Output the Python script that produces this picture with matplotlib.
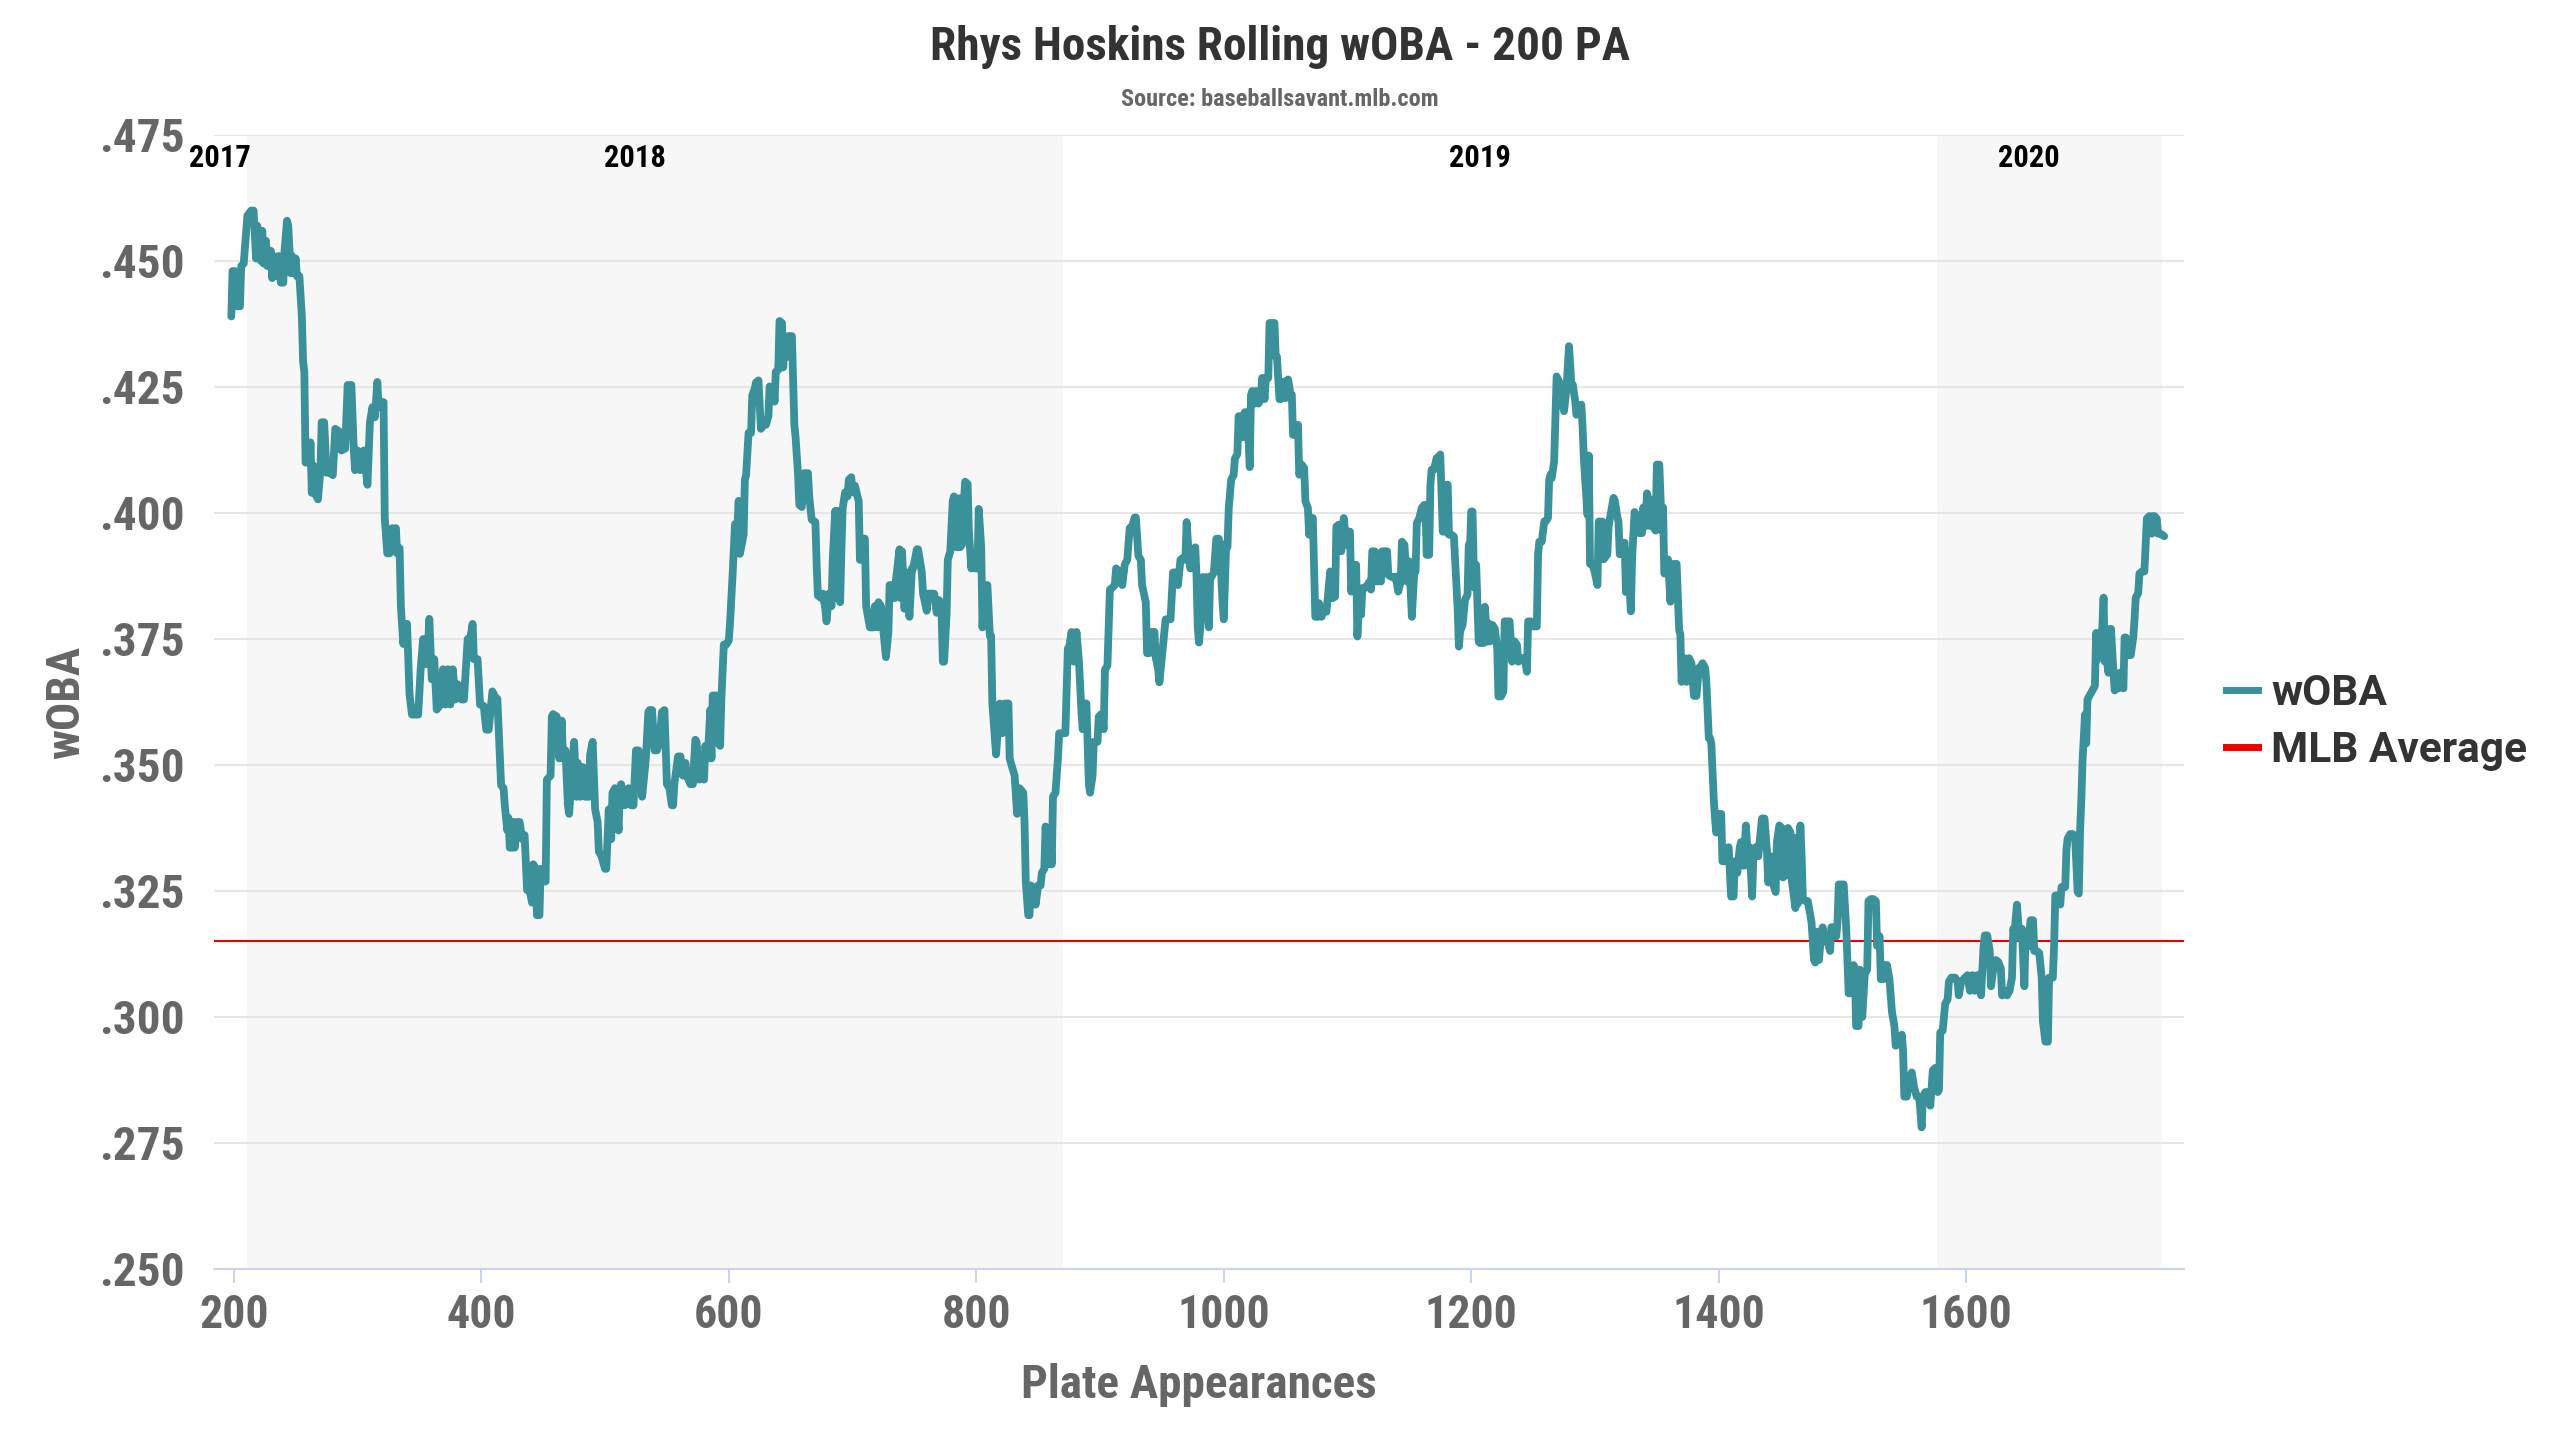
import matplotlib
matplotlib.use("Agg")
import matplotlib.pyplot as plt
from matplotlib import font_manager as fm
from matplotlib.lines import Line2D
from matplotlib.ticker import FuncFormatter
import matplotlib.transforms as mtransforms

# ---------------- data ----------------
title = "Rhys Hoskins Rolling wOBA - 200 PA"
subtitle = "Source: baseballsavant.mlb.com"
x_label = "Plate Appearances"
y_label = "wOBA"
series_names = ["wOBA", "MLB Average"]
mlb_average = 0.315

season_names = ["2017", "2018", "2019", "2020"]
season_start = [198, 211, 870, 1576]
season_end = [211, 870, 1576, 1758]
season_shaded = [False, True, False, True]

x_ticks = [200, 400, 600, 800, 1000, 1200, 1400, 1600]
y_ticks = [0.250, 0.275, 0.300, 0.325, 0.350, 0.375, 0.400, 0.425, 0.450, 0.475]

plate_appearances = [
    198, 199, 201, 203, 205, 206, 208, 211, 214, 216, 218, 219, 222, 223, 224, 226, 227, 230, 231, 232,
    235, 236, 238, 240, 241, 243, 244, 246, 247, 248, 250, 251, 253, 255, 256, 257, 258, 261, 262, 263,
    264, 266, 268, 270, 271, 273, 275, 278, 280, 282, 285, 287, 290, 292, 295, 297, 298, 300, 302, 305,
    308, 310, 312, 314, 316, 317, 318, 321, 322, 324, 326, 328, 330, 331, 332, 334, 335, 337, 339, 340,
    342, 344, 347, 349, 351, 353, 355, 357, 358, 360, 362, 364, 367, 369, 371, 373, 375, 377, 379, 381,
    384, 386, 388, 389, 391, 393, 394, 397, 399, 402, 404, 406, 409, 411, 413,
    416, 418, 419, 421, 422, 423, 425, 426, 427, 429, 431, 433, 435, 437, 439, 441, 442, 444, 445, 447,
    448, 450, 452, 453, 456, 457, 458, 461, 463, 465, 466, 468, 470, 471, 473, 475, 477, 478, 480, 482,
    484, 487, 488, 490, 492, 494, 495, 497, 500, 501, 503, 505, 506, 508, 511, 512, 513, 516, 519, 521,
    523, 525, 527, 528, 530, 531, 533, 535, 536, 538, 540, 542, 544, 546, 548, 550, 552, 554, 555, 556,
    559, 561, 563, 565, 566, 569, 571, 573, 574, 576, 578, 580, 581, 583, 585, 586, 587, 590, 591, 593,
    594, 596, 598, 600, 601, 603, 605, 606, 608, 609, 612, 613, 614, 616, 618, 619, 621, 622, 624, 626,
    628,
    630, 632, 633, 635, 636, 637, 638, 640, 641, 643, 644, 645, 647, 648, 650, 651, 653, 654, 656, 657,
    659, 660, 661, 664, 665, 667, 670, 671, 672, 675, 676, 678, 679, 681, 683, 684, 686, 687, 688, 690,
    691, 692, 694, 696, 697, 699, 700, 702, 704, 705, 706, 708, 710, 711, 714, 717, 718, 720, 721, 723,
    725, 727, 729, 730, 732, 734, 735, 738, 739, 740, 742, 744, 746, 748, 749, 752, 753, 756, 757, 760,
    761, 764, 766, 768, 770, 772, 773, 774, 776, 777, 779, 781, 782, 784, 786, 787, 789, 790, 791, 793,
    794, 796, 797, 799, 801, 802, 804, 805, 807, 809, 811, 812, 813, 816, 818, 819, 821, 823, 826, 827,
    828, 830, 831, 833,
    835, 838, 839, 840, 842, 843, 844, 846, 848, 850, 852, 853, 855, 856, 858, 860, 861, 862, 864, 866,
    867, 870, 872, 874, 875, 877, 879, 881, 883, 885, 886, 887, 889, 891, 892, 894, 895, 898, 899, 901,
    903, 904, 906, 908, 910, 912, 913, 916, 918, 920, 922, 924, 926, 928, 929, 931, 933, 934, 937, 938,
    940, 942, 944, 945, 947, 948, 950, 952, 953, 955, 957, 959, 961, 963, 965, 967, 969, 970, 972, 973,
    975, 977, 978, 979, 980, 982, 983, 984, 986, 987, 988, 989, 990, 992, 994, 995, 996, 998, 999, 1000,
    1002, 1003, 1004, 1006, 1007, 1008, 1009, 1011, 1012, 1014, 1015, 1017, 1018, 1019, 1021, 1022, 1023, 1025, 1026, 1028,
    1030, 1031, 1033, 1034, 1036, 1037, 1041, 1042, 1043, 1045, 1046,
    1047, 1049, 1050, 1052, 1054, 1055, 1056, 1058, 1060, 1061, 1063, 1065, 1066, 1068, 1069, 1070, 1072, 1074, 1076, 1077,
    1079, 1081, 1083, 1084, 1086, 1088, 1090, 1091, 1093, 1095, 1097, 1099, 1100, 1102, 1103, 1105, 1107, 1108, 1109, 1111,
    1112, 1114, 1116, 1118, 1119, 1120, 1122, 1124, 1125, 1127, 1128, 1130, 1132, 1133, 1135, 1138, 1139, 1141, 1143, 1144,
    1146, 1148, 1150, 1151, 1152, 1154, 1155, 1156, 1158, 1160, 1162, 1163, 1164, 1166, 1167, 1168, 1170, 1172, 1174, 1175,
    1177, 1178, 1180, 1181, 1182, 1184, 1186, 1187, 1189, 1190, 1191, 1193, 1195, 1197, 1198, 1199, 1200, 1201, 1202, 1203,
    1204, 1205, 1206, 1207, 1210, 1211, 1213, 1214, 1215, 1217, 1219, 1221, 1222, 1224, 1226, 1227, 1229, 1231, 1233, 1235,
    1237, 1238, 1241, 1243, 1245, 1246, 1248, 1250, 1253, 1254, 1255, 1257, 1259, 1260, 1262, 1263, 1264, 1265, 1267, 1269,
    1271, 1273, 1274, 1275, 1277, 1279, 1280, 1281, 1282, 1284, 1285, 1287, 1289, 1290, 1291, 1292, 1294,
    1295, 1296, 1298, 1300, 1302, 1303, 1306, 1307, 1310, 1311, 1313, 1315, 1316, 1318, 1319, 1320, 1322, 1324, 1325, 1327,
    1329, 1330, 1332, 1334, 1336, 1338, 1339, 1341, 1342, 1343, 1345, 1346, 1347, 1349, 1350, 1352, 1354, 1355, 1356, 1358,
    1359, 1361, 1362, 1364, 1365, 1366, 1368, 1369, 1370, 1372, 1374, 1376, 1378, 1380, 1382, 1384, 1385, 1387, 1389, 1390,
    1392, 1393, 1394, 1396, 1397, 1398, 1400, 1402, 1403, 1405, 1406, 1408, 1410, 1412, 1413, 1415, 1417, 1418, 1420, 1422,
    1424, 1425, 1427, 1428, 1430, 1432, 1433, 1435, 1437, 1439, 1440, 1442, 1443, 1446, 1447, 1449, 1451, 1452, 1454, 1456,
    1458, 1459, 1462, 1463, 1464, 1466, 1467, 1468, 1470, 1472, 1475, 1477, 1478, 1479, 1481, 1483, 1484, 1486, 1488, 1490,
    1491, 1493, 1495, 1496, 1497, 1499, 1501, 1503, 1505, 1507, 1509, 1510, 1511, 1513, 1514, 1516, 1518, 1520, 1521, 1523,
    1525, 1527, 1528, 1530, 1531, 1533, 1534, 1536, 1538, 1540,
    1542, 1543, 1546, 1548, 1549, 1550, 1552, 1554, 1556, 1558, 1560, 1562, 1564, 1565, 1567, 1569, 1571, 1573, 1575, 1577,
    1578, 1579, 1581, 1583, 1585, 1586, 1588, 1591, 1593, 1594, 1596, 1599, 1601, 1603, 1605, 1607, 1609, 1611, 1612, 1614,
    1615, 1617, 1619, 1620, 1622, 1624, 1626, 1628, 1629, 1631, 1633, 1635, 1637, 1638, 1639, 1641, 1643, 1645, 1647, 1648,
    1650, 1652, 1654, 1655, 1657, 1659, 1661, 1662, 1664, 1666, 1667, 1670, 1671, 1672, 1673, 1676, 1677, 1680, 1681, 1682,
    1684, 1686, 1688, 1690, 1691, 1692, 1693, 1694, 1696, 1697, 1698, 1700, 1702, 1704, 1705, 1706, 1708, 1709, 1711, 1712,
    1713, 1715, 1716, 1717, 1719, 1720, 1721, 1723, 1724, 1725, 1727, 1728, 1729, 1731, 1733, 1735, 1736, 1737, 1739, 1740,
    1742, 1744, 1746, 1748, 1750, 1751, 1752, 1754, 1755, 1757, 1760,
]

rolling_woba = [
    .439, .448, .448, .441, .441, .449, .4495, .459, .460, .460, .4505, .457, .450, .456, .4495, .454, .449, .452, .4466, .451,
    .447, .451, .4457, .4457, .452, .458, .457, .4476, .451, .4476, .4505, .447, .447, .439, .430, .428, .410, .410, .414, .404,
    .4095, .4037, .4027, .4085, .418, .418, .408, .408, .4075, .4167, .4162, .4124, .4128, .4254, .4254, .4124, .4085, .4124, .4085, .4124,
    .4056, .418, .421, .419, .426, .421, .422, .422, .399, .392, .392, .397, .396, .397, .392, .393, .3815, .374, .378, .378,
    .364, .360, .360, .360, .369, .375, .370, .374, .379, .367, .371, .361, .362, .369, .362, .369, .362, .369, .363, .366,
    .363, .363, .371, .375, .375, .378, .371, .371, .362, .3617, .357, .357, .3646, .3636, .3631,
    .346, .3454, .342, .337, .3395, .3336, .3336, .3387, .3336, .3387, .3387, .3353, .3361, .3252, .3252, .3227, .3303, .3294, .3202, .3202,
    .3294, .3269, .3269, .3471, .3479, .3596, .3601, .3596, .3513, .3588, .3513, .3529, .3420, .3403, .3479, .3546, .3437, .3504, .3437, .3496,
    .3437, .3437, .3521, .3546, .3412, .3387, .3328, .3320, .3294, .3294, .3412, .3353, .3445, .3454, .3370, .3454, .3462, .3420, .3454, .3420,
    .3420, .3529, .3529, .3521, .3437, .3462, .3513, .3605, .3609, .3609, .3529, .3529, .3546, .3605, .3609, .3462, .3454, .3420, .3420, .3462,
    .3517, .3517, .3479, .3504, .3479, .3462, .3462, .3550, .3546, .3471, .3479, .3471, .3538, .3513, .3609, .3513, .3638, .3638, .3546, .3538,
    .3630, .3739, .3739, .3747, .3781, .3873, .3978, .3924, .4024, .3919, .3957, .4066, .4075, .4159, .4159, .4234, .4247, .4259, .4263, .4167,
    .4175,
    .4175, .4192, .4251, .4226, .4251, .4221, .4280, .4284, .4381, .4377, .4289, .4343, .4310, .4351, .4351, .4351, .4175, .4150, .4075, .4016,
    .4012, .4058, .4079, .4079, .4033, .3987, .3982, .3898, .3836, .3831, .3840, .3810, .3785, .3840, .3815, .3907, .4004, .3831, .4004, .3823,
    .3924, .4008, .4041, .4033, .4066, .4071, .4041, .4054, .4033, .4024, .3907, .3949, .3949, .3815, .3773, .3773, .3815, .3773, .3823, .3815,
    .3764, .3714, .3764, .3857, .3857, .3831, .3865, .3928, .3831, .3924, .3810, .3882, .3794, .3890, .3890, .3928, .3928, .3882, .3840, .3806,
    .3840, .3840, .3840, .3802, .3827, .3798, .3705, .3705, .3798, .3907, .3924, .4024, .4033, .3932, .4029, .3932, .3940, .4024, .4062, .4058,
    .3966, .3890, .3915, .3890, .3890, .4008, .3932, .3773, .3857, .3857, .3756, .3756, .3622, .3521, .3588, .3622, .3563, .3622, .3622, .3513,
    .3504, .3487, .3479, .3403,
    .3454, .3445, .3387, .3269, .3202, .3202, .3261, .3257, .3223, .3261, .3261, .3286, .3294, .3378, .3303, .3361, .3303, .3437, .3445, .3513,
    .3563, .3563, .3563, .3731, .3731, .3764, .3705, .3764, .3705, .3605, .3571, .3622, .3622, .3462, .3445, .3479, .3546, .3546, .3596, .3601,
    .3571, .3689, .3697, .3848, .3852, .3857, .3890, .3882, .3857, .3898, .3907, .3970, .3974, .3991, .3991, .3915, .3907, .3857, .3823, .3722,
    .3722, .3764, .3764, .3714, .3689, .3664, .3714, .3764, .3789, .3789, .3789, .3882, .3882, .3857, .3907, .3911, .3907, .3982, .3907, .3890,
    .3924, .3932, .3873, .3773, .3743, .3798, .3873, .3798, .3873, .3848, .3773, .3873, .3873, .3882, .3949, .3949, .3949, .3873, .3823, .3789,
    .3940, .3932, .4008, .4066, .4071, .4075, .4108, .4117, .4192, .4192, .4150, .4200, .4200, .4200, .4091, .4234, .4242, .4217, .4242, .4217,
    .4226, .4268, .4226, .4268, .4268, .4377, .4377, .4310, .4310, .4226, .4226,
    .4228, .4261, .4228, .4265, .4235, .4235, .4155, .4155, .4175, .4076, .4096, .4089, .4023, .4010, .3957, .3990, .3990, .3794, .3794, .3821,
    .3794, .3811, .3804, .3831, .3884, .3831, .3834, .3973, .3977, .3924, .3990, .3937, .3963, .3963, .3844, .3897, .3897, .3755, .3811, .3798,
    .3851, .3851, .3857, .3864, .3848, .3924, .3924, .3864, .3871, .3864, .3924, .3924, .3924, .3877, .3874, .3871, .3874, .3844, .3864, .3943,
    .3937, .3864, .3904, .3851, .3794, .3884, .3884, .3980, .3990, .4010, .4016, .4016, .3917, .3917, .4056, .4086, .4086, .4109, .4112, .4116,
    .3963, .3963, .4056, .4056, .3957, .3957, .3953, .3904, .3811, .3735, .3765, .3778, .3828, .3838, .3937, .3930, .4003, .4003, .3897, .3851,
    .3897, .3824, .3745, .3742, .3742, .3814, .3745, .3781, .3745, .3778, .3771, .3732, .3636, .3636, .3646, .3785, .3785, .3785, .3705, .3745,
    .3738, .3705, .3712, .3712, .3685, .3785, .3785, .3775, .3775, .3917, .3943, .3943, .3983, .3983, .3990, .4066, .4076, .4069, .4102, .4271,
    .4261, .4215, .4215, .4202, .4248, .4331, .4294, .4248, .4255, .4222, .4195, .4212, .4215, .4169, .4109, .4069, .3996,
    .4114, .3899, .3899, .3880, .3857, .3983, .3983, .3908, .3918, .3974, .4002, .4030, .4025, .3993, .3983, .3918, .3941, .3941, .3843, .3890,
    .3805, .3908, .4002, .3993, .3960, .3960, .4011, .3974, .4039, .4030, .3974, .4025, .3974, .3965, .4096, .4096, .3965, .4011, .3880, .3880,
    .3908, .3824, .3899, .3833, .3899, .3899, .3768, .3759, .3665, .3712, .3665, .3712, .3702, .3637, .3637, .3693, .3693, .3702, .3693, .3665,
    .3553, .3553, .3543, .3431, .3394, .3366, .3403, .3403, .3309, .3309, .3333, .3337, .3239, .3239, .3309, .3286, .3337, .3347, .3300, .3380,
    .3300, .3337, .3239, .3319, .3337, .3319, .3347, .3394, .3394, .3328, .3267, .3319, .3272, .3248, .3347, .3380, .3375, .3277, .3281, .3375,
    .3366, .3272, .3216, .3356, .3225, .3380, .3319, .3234, .3230, .3230, .3188, .3113, .3108, .3169, .3113, .3169, .3178, .3150, .3150, .3131,
    .3178, .3178, .3160, .3188, .3263, .3263, .3263, .3178, .3047, .3047, .3103, .3094, .2982, .2982, .3094, .3000, .3085, .3094, .3230, .3234,
    .3234, .3230, .3141, .3160, .3075, .3075, .3103, .3103, .3075, .3010,
    .2982, .2943, .2947, .2965, .2930, .2842, .2842, .2877, .2890, .2859, .2842, .2842, .2781, .2842, .2851, .2851, .2824, .2894, .2899, .2851,
    .2855, .2969, .2973, .3026, .3035, .3070, .3078, .3078, .3070, .3043, .3070, .3078, .3083, .3052, .3083, .3052, .3083, .3065, .3043, .3140,
    .3162, .3162, .3131, .3061, .3096, .3113, .3109, .3096, .3043, .3052, .3043, .3052, .3078, .3175, .3166, .3223, .3157, .3175, .3061, .3166,
    .3140, .3192, .3192, .3131, .3131, .3127, .3078, .2991, .2951, .2951, .3078, .3078, .3140, .3241, .3241, .3223, .3258, .3258, .3332, .3354,
    .3363, .3363, .3359, .3249, .3245, .3368, .3429, .3508, .3600, .3543, .3630, .3639, .3648, .3657, .3762, .3709, .3762, .3718, .3832, .3705,
    .3722, .3683, .3770, .3770, .3683, .3648, .3657, .3652, .3683, .3683, .3652, .3753, .3753, .3718, .3718, .3753, .3788, .3832, .3841, .3880,
    .3884, .3884, .3989, .3994, .3959, .3994, .3994, .3989, .3959, .3959, .3954,
]

# ---------------- style ----------------
W, H, DPI = 2560, 1440, 100
TEAL = "#3a9199"
RED = "#ee0000"
DARK = "#333333"
GREY = "#666666"
GRID = "#e6e6e6"
AXIS = "#ccd6eb"
BAND = "#f7f7f7"

names = {f.name for f in fm.fontManager.ttflist}
COND = next((n for n in ["Roboto Condensed", "Liberation Sans Narrow", "Roboto"] if n in names), "DejaVu Sans")
REG = "Roboto" if "Roboto" in names else "DejaVu Sans"
plt.rcParams["font.family"] = [COND, "DejaVu Sans"]

fig = plt.figure(figsize=(W / DPI, H / DPI), dpi=DPI)
fig.patch.set_facecolor("white")
L, R, T, B = 214, 2184, 135, 1269
ax = fig.add_axes([L / W, 1 - B / H, (R - L) / W, (B - T) / H])
ax.set_facecolor("white")

# season bands + labels
lab_tr = mtransforms.blended_transform_factory(ax.transData, ax.transAxes)
for name, s, e, sh in zip(season_names, season_start, season_end, season_shaded):
    if sh:
        ax.axvspan(s, e, color=BAND, zorder=0.2, lw=0)
    ax.text((s + e) / 2 - 16, 1 - 32 / (B - T), name, transform=lab_tr, ha="center", va="baseline",
            fontsize=22, fontweight="bold", color="black", family=[COND, "DejaVu Sans"], zorder=5)

ax.plot(plate_appearances, rolling_woba, color=TEAL, lw=5.6, solid_joinstyle="round",
        solid_capstyle="round", zorder=3)
ax.axhline(mlb_average, color=RED, lw=1.5, zorder=2.5)

ax.set_xlim(184, 1776)
ax.set_ylim(y_ticks[0], y_ticks[-1])
ax.set_xticks(x_ticks)
ax.set_yticks(y_ticks)
ax.yaxis.set_major_formatter(FuncFormatter(lambda v, p: f"{v:.3f}".lstrip("0")))

ax.set_axisbelow(True)
ax.grid(axis="y", color=GRID, lw=1.5)
ax.grid(axis="x", visible=False)
for sp in ["top", "right", "left"]:
    ax.spines[sp].set_visible(False)
ax.spines["bottom"].set_color(AXIS)
ax.spines["bottom"].set_linewidth(1.5)
ax.spines["bottom"].set_zorder(4)

ax.tick_params(axis="x", length=10, width=1.5, color=AXIS, pad=7, labelsize=33, labelcolor=GREY)
ax.tick_params(axis="y", length=0, pad=21, labelsize=34, labelcolor=GREY)
for lab in ax.get_xticklabels() + ax.get_yticklabels():
    lab.set_fontweight("bold")

# titles and axis labels
fig.text(0.5, 1 - 60 / H, title, ha="center", va="baseline", fontsize=34, fontweight="bold", color=DARK)
fig.text(0.5, 1 - 106 / H, subtitle, ha="center", va="baseline", fontsize=17.5, fontweight="bold", color=GREY)
fig.text((L + R) / 2 / W, 1 - 1398 / H, x_label, ha="center", va="baseline", fontsize=34,
         fontweight="bold", color=GREY)
fig.text(66 / W, 1 - (T + B) / 2 / H, y_label, ha="center", va="center", rotation=90, fontsize=34,
         fontweight="bold", color=GREY)

# legend
handles = [Line2D([], [], color=TEAL, lw=5), Line2D([], [], color=RED, lw=5)]
leg = fig.legend(handles, series_names, loc="center left", bbox_to_anchor=(2226 / W, 1 - 722 / H),
                 frameon=False, borderpad=0, borderaxespad=0, handlelength=0.75, handletextpad=0.32,
                 labelspacing=0.38, prop=fm.FontProperties(family=REG, weight="bold", size=30.5))
for t in leg.get_texts():
    t.set_color(DARK)

fig.savefig("out.png", dpi=DPI, facecolor="white")
